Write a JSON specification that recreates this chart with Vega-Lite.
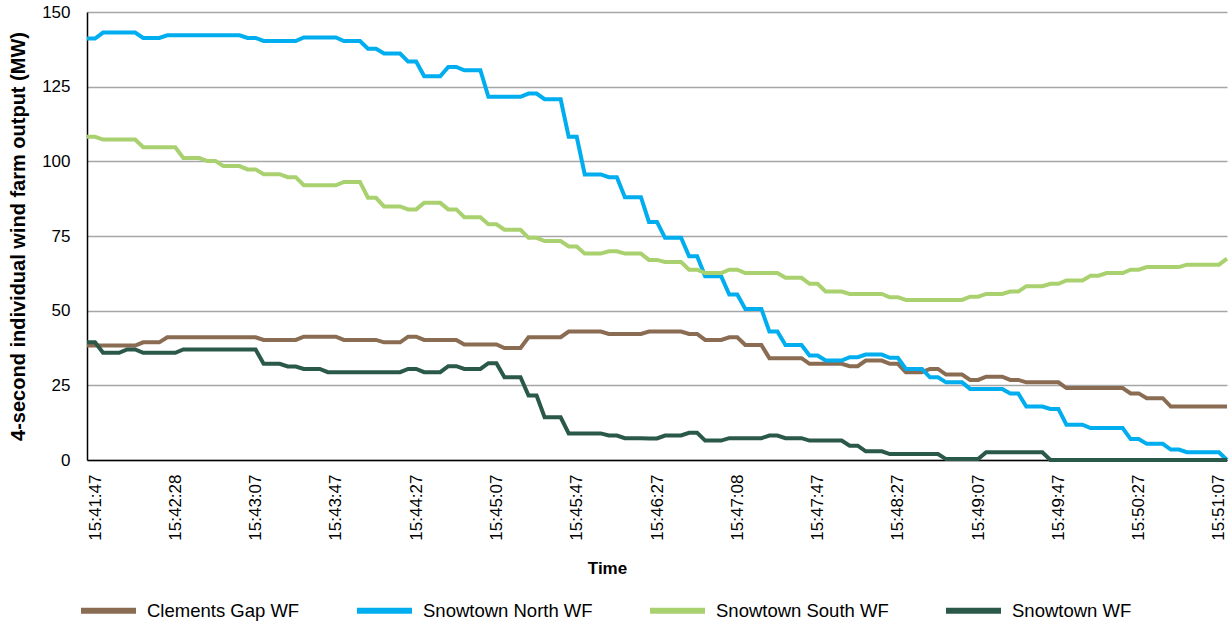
{
"$schema": "https://vega.github.io/schema/vega-lite/v6.json",
"width": 1140, "height": 448,
"autosize": {"type": "none"},
"padding": {"left": 87, "top": 12, "right": 3, "bottom": 165},
"background": "white",
"config": {"view": {"stroke": null}, "font": "Liberation Sans"},
"data": {"values": [
{"Time":"15:41:43","Clements Gap WF":38.3,"Snowtown North WF":141.1,"Snowtown South WF":108.2,"Snowtown WF":39.4},
{"Time":"15:41:47","Clements Gap WF":38.3,"Snowtown North WF":141.1,"Snowtown South WF":108.2,"Snowtown WF":39.4},
{"Time":"15:41:51","Clements Gap WF":38.3,"Snowtown North WF":143.1,"Snowtown South WF":107.3,"Snowtown WF":35.9},
{"Time":"15:41:55","Clements Gap WF":38.3,"Snowtown North WF":143.1,"Snowtown South WF":107.3,"Snowtown WF":35.9},
{"Time":"15:41:59","Clements Gap WF":38.3,"Snowtown North WF":143.1,"Snowtown South WF":107.3,"Snowtown WF":35.9},
{"Time":"15:42:03","Clements Gap WF":38.3,"Snowtown North WF":143.1,"Snowtown South WF":107.3,"Snowtown WF":37.0},
{"Time":"15:42:07","Clements Gap WF":38.3,"Snowtown North WF":143.1,"Snowtown South WF":107.3,"Snowtown WF":37.0},
{"Time":"15:42:11","Clements Gap WF":39.4,"Snowtown North WF":141.3,"Snowtown South WF":104.7,"Snowtown WF":35.9},
{"Time":"15:42:15","Clements Gap WF":39.4,"Snowtown North WF":141.3,"Snowtown South WF":104.7,"Snowtown WF":35.9},
{"Time":"15:42:19","Clements Gap WF":39.4,"Snowtown North WF":141.3,"Snowtown South WF":104.7,"Snowtown WF":35.9},
{"Time":"15:42:24","Clements Gap WF":41.1,"Snowtown North WF":142.2,"Snowtown South WF":104.7,"Snowtown WF":35.9},
{"Time":"15:42:28","Clements Gap WF":41.1,"Snowtown North WF":142.2,"Snowtown South WF":104.7,"Snowtown WF":35.9},
{"Time":"15:42:32","Clements Gap WF":41.1,"Snowtown North WF":142.2,"Snowtown South WF":101.1,"Snowtown WF":37.0},
{"Time":"15:42:36","Clements Gap WF":41.1,"Snowtown North WF":142.2,"Snowtown South WF":101.1,"Snowtown WF":37.0},
{"Time":"15:42:40","Clements Gap WF":41.1,"Snowtown North WF":142.2,"Snowtown South WF":101.1,"Snowtown WF":37.0},
{"Time":"15:42:44","Clements Gap WF":41.1,"Snowtown North WF":142.2,"Snowtown South WF":100.1,"Snowtown WF":37.0},
{"Time":"15:42:48","Clements Gap WF":41.1,"Snowtown North WF":142.2,"Snowtown South WF":100.1,"Snowtown WF":37.0},
{"Time":"15:42:52","Clements Gap WF":41.1,"Snowtown North WF":142.2,"Snowtown South WF":98.4,"Snowtown WF":37.0},
{"Time":"15:42:56","Clements Gap WF":41.1,"Snowtown North WF":142.2,"Snowtown South WF":98.4,"Snowtown WF":37.0},
{"Time":"15:43:00","Clements Gap WF":41.1,"Snowtown North WF":142.2,"Snowtown South WF":98.4,"Snowtown WF":37.0},
{"Time":"15:43:03","Clements Gap WF":41.1,"Snowtown North WF":141.3,"Snowtown South WF":97.3,"Snowtown WF":37.0},
{"Time":"15:43:07","Clements Gap WF":41.1,"Snowtown North WF":141.3,"Snowtown South WF":97.3,"Snowtown WF":37.0},
{"Time":"15:43:11","Clements Gap WF":40.2,"Snowtown North WF":140.3,"Snowtown South WF":95.7,"Snowtown WF":32.2},
{"Time":"15:43:15","Clements Gap WF":40.2,"Snowtown North WF":140.3,"Snowtown South WF":95.7,"Snowtown WF":32.2},
{"Time":"15:43:19","Clements Gap WF":40.2,"Snowtown North WF":140.3,"Snowtown South WF":95.7,"Snowtown WF":32.2},
{"Time":"15:43:23","Clements Gap WF":40.2,"Snowtown North WF":140.3,"Snowtown South WF":94.7,"Snowtown WF":31.3},
{"Time":"15:43:27","Clements Gap WF":40.2,"Snowtown North WF":140.3,"Snowtown South WF":94.7,"Snowtown WF":31.3},
{"Time":"15:43:31","Clements Gap WF":41.3,"Snowtown North WF":141.5,"Snowtown South WF":92.0,"Snowtown WF":30.5},
{"Time":"15:43:35","Clements Gap WF":41.3,"Snowtown North WF":141.5,"Snowtown South WF":92.0,"Snowtown WF":30.5},
{"Time":"15:43:39","Clements Gap WF":41.3,"Snowtown North WF":141.5,"Snowtown South WF":92.0,"Snowtown WF":30.5},
{"Time":"15:43:43","Clements Gap WF":41.3,"Snowtown North WF":141.5,"Snowtown South WF":92.0,"Snowtown WF":29.4},
{"Time":"15:43:47","Clements Gap WF":41.3,"Snowtown North WF":141.5,"Snowtown South WF":92.0,"Snowtown WF":29.4},
{"Time":"15:43:51","Clements Gap WF":40.2,"Snowtown North WF":140.3,"Snowtown South WF":93.1,"Snowtown WF":29.4},
{"Time":"15:43:55","Clements Gap WF":40.2,"Snowtown North WF":140.3,"Snowtown South WF":93.1,"Snowtown WF":29.4},
{"Time":"15:43:59","Clements Gap WF":40.2,"Snowtown North WF":140.3,"Snowtown South WF":93.1,"Snowtown WF":29.4},
{"Time":"15:44:03","Clements Gap WF":40.2,"Snowtown North WF":137.7,"Snowtown South WF":87.8,"Snowtown WF":29.4},
{"Time":"15:44:07","Clements Gap WF":40.2,"Snowtown North WF":137.7,"Snowtown South WF":87.8,"Snowtown WF":29.4},
{"Time":"15:44:11","Clements Gap WF":39.4,"Snowtown North WF":136.1,"Snowtown South WF":84.9,"Snowtown WF":29.4},
{"Time":"15:44:15","Clements Gap WF":39.4,"Snowtown North WF":136.1,"Snowtown South WF":84.9,"Snowtown WF":29.4},
{"Time":"15:44:19","Clements Gap WF":39.4,"Snowtown North WF":136.1,"Snowtown South WF":84.9,"Snowtown WF":29.4},
{"Time":"15:44:23","Clements Gap WF":41.3,"Snowtown North WF":133.4,"Snowtown South WF":83.9,"Snowtown WF":30.5},
{"Time":"15:44:27","Clements Gap WF":41.3,"Snowtown North WF":133.4,"Snowtown South WF":83.9,"Snowtown WF":30.5},
{"Time":"15:44:31","Clements Gap WF":40.2,"Snowtown North WF":128.5,"Snowtown South WF":86.1,"Snowtown WF":29.4},
{"Time":"15:44:35","Clements Gap WF":40.2,"Snowtown North WF":128.5,"Snowtown South WF":86.1,"Snowtown WF":29.4},
{"Time":"15:44:39","Clements Gap WF":40.2,"Snowtown North WF":128.5,"Snowtown South WF":86.1,"Snowtown WF":29.4},
{"Time":"15:44:43","Clements Gap WF":40.2,"Snowtown North WF":131.6,"Snowtown South WF":83.9,"Snowtown WF":31.4},
{"Time":"15:44:47","Clements Gap WF":40.2,"Snowtown North WF":131.6,"Snowtown South WF":83.9,"Snowtown WF":31.4},
{"Time":"15:44:51","Clements Gap WF":38.7,"Snowtown North WF":130.5,"Snowtown South WF":81.3,"Snowtown WF":30.5},
{"Time":"15:44:55","Clements Gap WF":38.7,"Snowtown North WF":130.5,"Snowtown South WF":81.3,"Snowtown WF":30.5},
{"Time":"15:44:59","Clements Gap WF":38.7,"Snowtown North WF":130.5,"Snowtown South WF":81.3,"Snowtown WF":30.5},
{"Time":"15:45:03","Clements Gap WF":38.7,"Snowtown North WF":121.6,"Snowtown South WF":78.9,"Snowtown WF":32.4},
{"Time":"15:45:07","Clements Gap WF":38.7,"Snowtown North WF":121.6,"Snowtown South WF":78.9,"Snowtown WF":32.4},
{"Time":"15:45:11","Clements Gap WF":37.5,"Snowtown North WF":121.6,"Snowtown South WF":77.1,"Snowtown WF":27.7},
{"Time":"15:45:15","Clements Gap WF":37.5,"Snowtown North WF":121.6,"Snowtown South WF":77.1,"Snowtown WF":27.7},
{"Time":"15:45:19","Clements Gap WF":37.5,"Snowtown North WF":121.6,"Snowtown South WF":77.1,"Snowtown WF":27.7},
{"Time":"15:45:23","Clements Gap WF":41.1,"Snowtown North WF":122.7,"Snowtown South WF":74.4,"Snowtown WF":21.6},
{"Time":"15:45:27","Clements Gap WF":41.1,"Snowtown North WF":122.7,"Snowtown South WF":74.4,"Snowtown WF":21.6},
{"Time":"15:45:31","Clements Gap WF":41.1,"Snowtown North WF":120.8,"Snowtown South WF":73.3,"Snowtown WF":14.3},
{"Time":"15:45:35","Clements Gap WF":41.1,"Snowtown North WF":120.8,"Snowtown South WF":73.3,"Snowtown WF":14.3},
{"Time":"15:45:39","Clements Gap WF":41.1,"Snowtown North WF":120.8,"Snowtown South WF":73.3,"Snowtown WF":14.3},
{"Time":"15:45:43","Clements Gap WF":43.0,"Snowtown North WF":108.2,"Snowtown South WF":71.5,"Snowtown WF":8.9},
{"Time":"15:45:47","Clements Gap WF":43.0,"Snowtown North WF":108.2,"Snowtown South WF":71.5,"Snowtown WF":8.9},
{"Time":"15:45:51","Clements Gap WF":43.0,"Snowtown North WF":95.6,"Snowtown South WF":69.1,"Snowtown WF":8.9},
{"Time":"15:45:55","Clements Gap WF":43.0,"Snowtown North WF":95.6,"Snowtown South WF":69.1,"Snowtown WF":8.9},
{"Time":"15:45:59","Clements Gap WF":43.0,"Snowtown North WF":95.6,"Snowtown South WF":69.1,"Snowtown WF":8.9},
{"Time":"15:46:03","Clements Gap WF":42.2,"Snowtown North WF":94.7,"Snowtown South WF":69.9,"Snowtown WF":8.2},
{"Time":"15:46:07","Clements Gap WF":42.2,"Snowtown North WF":94.7,"Snowtown South WF":69.9,"Snowtown WF":8.2},
{"Time":"15:46:11","Clements Gap WF":42.2,"Snowtown North WF":88.0,"Snowtown South WF":69.1,"Snowtown WF":7.3},
{"Time":"15:46:15","Clements Gap WF":42.2,"Snowtown North WF":88.0,"Snowtown South WF":69.1,"Snowtown WF":7.3},
{"Time":"15:46:19","Clements Gap WF":42.2,"Snowtown North WF":88.0,"Snowtown South WF":69.1,"Snowtown WF":7.3},
{"Time":"15:46:23","Clements Gap WF":43.0,"Snowtown North WF":79.7,"Snowtown South WF":67.0,"Snowtown WF":7.2},
{"Time":"15:46:27","Clements Gap WF":43.0,"Snowtown North WF":79.7,"Snowtown South WF":67.0,"Snowtown WF":7.2},
{"Time":"15:46:31","Clements Gap WF":43.0,"Snowtown North WF":74.4,"Snowtown South WF":66.3,"Snowtown WF":8.2},
{"Time":"15:46:35","Clements Gap WF":43.0,"Snowtown North WF":74.4,"Snowtown South WF":66.3,"Snowtown WF":8.2},
{"Time":"15:46:39","Clements Gap WF":43.0,"Snowtown North WF":74.4,"Snowtown South WF":66.3,"Snowtown WF":8.2},
{"Time":"15:46:43","Clements Gap WF":42.2,"Snowtown North WF":68.2,"Snowtown South WF":63.7,"Snowtown WF":9.1},
{"Time":"15:46:47","Clements Gap WF":42.2,"Snowtown North WF":68.2,"Snowtown South WF":63.7,"Snowtown WF":9.1},
{"Time":"15:46:51","Clements Gap WF":40.2,"Snowtown North WF":61.5,"Snowtown South WF":62.6,"Snowtown WF":6.5},
{"Time":"15:46:55","Clements Gap WF":40.2,"Snowtown North WF":61.5,"Snowtown South WF":62.6,"Snowtown WF":6.5},
{"Time":"15:46:59","Clements Gap WF":40.2,"Snowtown North WF":61.5,"Snowtown South WF":62.6,"Snowtown WF":6.5},
{"Time":"15:47:04","Clements Gap WF":41.1,"Snowtown North WF":55.4,"Snowtown South WF":63.7,"Snowtown WF":7.3},
{"Time":"15:47:08","Clements Gap WF":41.1,"Snowtown North WF":55.4,"Snowtown South WF":63.7,"Snowtown WF":7.3},
{"Time":"15:47:12","Clements Gap WF":38.5,"Snowtown North WF":50.6,"Snowtown South WF":62.6,"Snowtown WF":7.3},
{"Time":"15:47:16","Clements Gap WF":38.5,"Snowtown North WF":50.6,"Snowtown South WF":62.6,"Snowtown WF":7.3},
{"Time":"15:47:20","Clements Gap WF":38.5,"Snowtown North WF":50.6,"Snowtown South WF":62.6,"Snowtown WF":7.3},
{"Time":"15:47:24","Clements Gap WF":34.1,"Snowtown North WF":43.0,"Snowtown South WF":62.6,"Snowtown WF":8.2},
{"Time":"15:47:28","Clements Gap WF":34.1,"Snowtown North WF":43.0,"Snowtown South WF":62.6,"Snowtown WF":8.2},
{"Time":"15:47:32","Clements Gap WF":34.1,"Snowtown North WF":38.5,"Snowtown South WF":61.0,"Snowtown WF":7.3},
{"Time":"15:47:36","Clements Gap WF":34.1,"Snowtown North WF":38.5,"Snowtown South WF":61.0,"Snowtown WF":7.3},
{"Time":"15:47:40","Clements Gap WF":34.1,"Snowtown North WF":38.5,"Snowtown South WF":61.0,"Snowtown WF":7.3},
{"Time":"15:47:43","Clements Gap WF":32.2,"Snowtown North WF":35.0,"Snowtown South WF":59.0,"Snowtown WF":6.5},
{"Time":"15:47:47","Clements Gap WF":32.2,"Snowtown North WF":35.0,"Snowtown South WF":59.0,"Snowtown WF":6.5},
{"Time":"15:47:51","Clements Gap WF":32.2,"Snowtown North WF":33.3,"Snowtown South WF":56.4,"Snowtown WF":6.5},
{"Time":"15:47:55","Clements Gap WF":32.2,"Snowtown North WF":33.3,"Snowtown South WF":56.4,"Snowtown WF":6.5},
{"Time":"15:47:59","Clements Gap WF":32.2,"Snowtown North WF":33.3,"Snowtown South WF":56.4,"Snowtown WF":6.5},
{"Time":"15:48:03","Clements Gap WF":31.4,"Snowtown North WF":34.4,"Snowtown South WF":55.6,"Snowtown WF":4.8},
{"Time":"15:48:07","Clements Gap WF":31.4,"Snowtown North WF":34.4,"Snowtown South WF":55.6,"Snowtown WF":4.8},
{"Time":"15:48:11","Clements Gap WF":33.3,"Snowtown North WF":35.3,"Snowtown South WF":55.6,"Snowtown WF":2.9},
{"Time":"15:48:15","Clements Gap WF":33.3,"Snowtown North WF":35.3,"Snowtown South WF":55.6,"Snowtown WF":2.9},
{"Time":"15:48:19","Clements Gap WF":33.3,"Snowtown North WF":35.3,"Snowtown South WF":55.6,"Snowtown WF":2.9},
{"Time":"15:48:23","Clements Gap WF":32.2,"Snowtown North WF":34.2,"Snowtown South WF":54.5,"Snowtown WF":2.0},
{"Time":"15:48:27","Clements Gap WF":32.2,"Snowtown North WF":34.2,"Snowtown South WF":54.5,"Snowtown WF":2.0},
{"Time":"15:48:31","Clements Gap WF":29.4,"Snowtown North WF":30.5,"Snowtown South WF":53.6,"Snowtown WF":2.0},
{"Time":"15:48:35","Clements Gap WF":29.4,"Snowtown North WF":30.5,"Snowtown South WF":53.6,"Snowtown WF":2.0},
{"Time":"15:48:39","Clements Gap WF":29.4,"Snowtown North WF":30.5,"Snowtown South WF":53.6,"Snowtown WF":2.0},
{"Time":"15:48:43","Clements Gap WF":30.5,"Snowtown North WF":27.7,"Snowtown South WF":53.6,"Snowtown WF":2.0},
{"Time":"15:48:47","Clements Gap WF":30.5,"Snowtown North WF":27.7,"Snowtown South WF":53.6,"Snowtown WF":2.0},
{"Time":"15:48:51","Clements Gap WF":28.6,"Snowtown North WF":26.0,"Snowtown South WF":53.6,"Snowtown WF":0.3},
{"Time":"15:48:55","Clements Gap WF":28.6,"Snowtown North WF":26.0,"Snowtown South WF":53.6,"Snowtown WF":0.3},
{"Time":"15:48:59","Clements Gap WF":28.6,"Snowtown North WF":26.0,"Snowtown South WF":53.6,"Snowtown WF":0.3},
{"Time":"15:49:03","Clements Gap WF":26.8,"Snowtown North WF":23.8,"Snowtown South WF":54.7,"Snowtown WF":0.3},
{"Time":"15:49:07","Clements Gap WF":26.8,"Snowtown North WF":23.8,"Snowtown South WF":54.7,"Snowtown WF":0.3},
{"Time":"15:49:11","Clements Gap WF":27.9,"Snowtown North WF":23.8,"Snowtown South WF":55.6,"Snowtown WF":2.6},
{"Time":"15:49:15","Clements Gap WF":27.9,"Snowtown North WF":23.8,"Snowtown South WF":55.6,"Snowtown WF":2.6},
{"Time":"15:49:19","Clements Gap WF":27.9,"Snowtown North WF":23.8,"Snowtown South WF":55.6,"Snowtown WF":2.6},
{"Time":"15:49:23","Clements Gap WF":26.8,"Snowtown North WF":22.3,"Snowtown South WF":56.4,"Snowtown WF":2.6},
{"Time":"15:49:27","Clements Gap WF":26.8,"Snowtown North WF":22.3,"Snowtown South WF":56.4,"Snowtown WF":2.6},
{"Time":"15:49:31","Clements Gap WF":26.0,"Snowtown North WF":17.9,"Snowtown South WF":58.2,"Snowtown WF":2.6},
{"Time":"15:49:35","Clements Gap WF":26.0,"Snowtown North WF":17.9,"Snowtown South WF":58.2,"Snowtown WF":2.6},
{"Time":"15:49:39","Clements Gap WF":26.0,"Snowtown North WF":17.9,"Snowtown South WF":58.2,"Snowtown WF":2.6},
{"Time":"15:49:43","Clements Gap WF":26.0,"Snowtown North WF":17.1,"Snowtown South WF":59.0,"Snowtown WF":0},
{"Time":"15:49:47","Clements Gap WF":26.0,"Snowtown North WF":17.1,"Snowtown South WF":59.0,"Snowtown WF":0},
{"Time":"15:49:51","Clements Gap WF":24.1,"Snowtown North WF":11.8,"Snowtown South WF":60.1,"Snowtown WF":0},
{"Time":"15:49:55","Clements Gap WF":24.1,"Snowtown North WF":11.8,"Snowtown South WF":60.1,"Snowtown WF":0},
{"Time":"15:49:59","Clements Gap WF":24.1,"Snowtown North WF":11.8,"Snowtown South WF":60.1,"Snowtown WF":0},
{"Time":"15:50:03","Clements Gap WF":24.1,"Snowtown North WF":10.7,"Snowtown South WF":61.7,"Snowtown WF":0},
{"Time":"15:50:07","Clements Gap WF":24.1,"Snowtown North WF":10.7,"Snowtown South WF":61.7,"Snowtown WF":0},
{"Time":"15:50:11","Clements Gap WF":24.1,"Snowtown North WF":10.7,"Snowtown South WF":62.6,"Snowtown WF":0},
{"Time":"15:50:15","Clements Gap WF":24.1,"Snowtown North WF":10.7,"Snowtown South WF":62.6,"Snowtown WF":0},
{"Time":"15:50:19","Clements Gap WF":24.1,"Snowtown North WF":10.7,"Snowtown South WF":62.6,"Snowtown WF":0},
{"Time":"15:50:23","Clements Gap WF":22.3,"Snowtown North WF":7.0,"Snowtown South WF":63.7,"Snowtown WF":0},
{"Time":"15:50:27","Clements Gap WF":22.3,"Snowtown North WF":7.0,"Snowtown South WF":63.7,"Snowtown WF":0},
{"Time":"15:50:31","Clements Gap WF":20.7,"Snowtown North WF":5.4,"Snowtown South WF":64.6,"Snowtown WF":0},
{"Time":"15:50:35","Clements Gap WF":20.7,"Snowtown North WF":5.4,"Snowtown South WF":64.6,"Snowtown WF":0},
{"Time":"15:50:39","Clements Gap WF":20.7,"Snowtown North WF":5.4,"Snowtown South WF":64.6,"Snowtown WF":0},
{"Time":"15:50:43","Clements Gap WF":17.9,"Snowtown North WF":3.5,"Snowtown South WF":64.6,"Snowtown WF":0},
{"Time":"15:50:47","Clements Gap WF":17.9,"Snowtown North WF":3.5,"Snowtown South WF":64.6,"Snowtown WF":0},
{"Time":"15:50:51","Clements Gap WF":17.9,"Snowtown North WF":2.6,"Snowtown South WF":65.4,"Snowtown WF":0},
{"Time":"15:50:55","Clements Gap WF":17.9,"Snowtown North WF":2.6,"Snowtown South WF":65.4,"Snowtown WF":0},
{"Time":"15:50:59","Clements Gap WF":17.9,"Snowtown North WF":2.6,"Snowtown South WF":65.4,"Snowtown WF":0},
{"Time":"15:51:03","Clements Gap WF":17.9,"Snowtown North WF":2.6,"Snowtown South WF":65.4,"Snowtown WF":0},
{"Time":"15:51:07","Clements Gap WF":17.9,"Snowtown North WF":2.6,"Snowtown South WF":65.4,"Snowtown WF":0},
{"Time":"15:51:11","Clements Gap WF":17.9,"Snowtown North WF":0,"Snowtown South WF":67.4,"Snowtown WF":0}
]},
"transform": [{"fold": ["Clements Gap WF", "Snowtown North WF", "Snowtown South WF", "Snowtown WF"], "as": ["farm", "mw"]}],
"mark": {"type": "line", "strokeWidth": 4, "interpolate": "linear"},
"encoding": {
  "x": {"field": "Time", "type": "ordinal", "sort": null,
    "scale": {"type": "point", "padding": 0},
    "axis": {"values": ["15:41:47","15:42:28","15:43:07","15:43:47","15:44:27","15:45:07","15:45:47","15:46:27","15:47:08","15:47:47","15:48:27","15:49:07","15:49:47","15:50:27","15:51:07"],
      "labelAngle": -90, "labelFontSize": 17, "labelColor": "#000", "labelPadding": 14, "ticks": false, "grid": false,
      "domainColor": "#000", "domainWidth": 1.5,
      "title": "Time", "titleFontSize": 17, "titleFontWeight": "bold", "titleColor": "#000",
      "titleX": 520, "titleY": 108, "titleBaseline": "middle", "titleAlign": "center"}},
  "y": {"field": "mw", "type": "quantitative",
    "scale": {"domain": [0, 150], "nice": false},
    "axis": {"values": [0, 25, 50, 75, 100, 125, 150], "labelFontSize": 17, "labelColor": "#000", "labelPadding": 17, "ticks": false,
      "gridColor": "#a6a6a6", "gridWidth": 1.5, "domainColor": "#000", "domainWidth": 1.5,
      "title": "4-second individual wind farm output (MW)", "titleFontSize": 20, "titleFontWeight": "bold", "titleColor": "#000",
      "titleX": -69, "titleY": 224, "titleBaseline": "middle", "titleAlign": "center", "titleAngle": -90}},
  "color": {"field": "farm", "type": "nominal",
    "scale": {"domain": ["Clements Gap WF", "Snowtown North WF", "Snowtown South WF", "Snowtown WF"], "range": ["#8a6c53", "#00aeef", "#a9d16f", "#2b5949"]},
    "legend": {"title": null, "orient": "none", "legendX": -9, "legendY": 568, "direction": "horizontal", "columns": 4,
      "symbolType": "stroke", "symbolSize": 3025, "symbolStrokeWidth": 6, "labelFontSize": 18.5, "labelOffset": 8,
      "columnPadding": 45, "labelColor": "#000", "labelLimit": 300}}
}
}
